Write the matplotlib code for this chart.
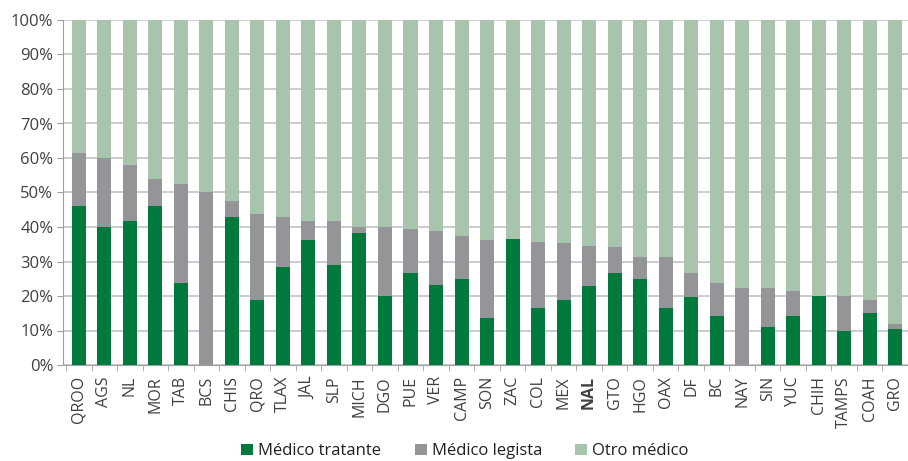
import numpy as np
import matplotlib
matplotlib.use('Agg')
import matplotlib.pyplot as plt
from matplotlib.ticker import FixedLocator, PercentFormatter

estados = ['QROO', 'AGS', 'NL', 'MOR', 'TAB', 'BCS', 'CHIS', 'QRO', 'TLAX', 'JAL',
           'SLP', 'MICH', 'DGO', 'PUE', 'VER', 'CAMP', 'SON', 'ZAC', 'COL', 'MEX',
           'NAL', 'GTO', 'HGO', 'OAX', 'DF', 'BC', 'NAY', 'SIN', 'YUC', 'CHIH',
           'TAMPS', 'COAH', 'GRO']

# Médico tratante (%)
tratante = [46.0, 39.9, 41.8, 46.0, 23.7, 0.0, 42.8, 18.8, 28.5, 36.1,
            29.1, 38.4, 20.0, 26.6, 23.3, 24.9, 13.6, 36.4, 16.5, 18.8,
            22.9, 26.7, 24.9, 16.5, 19.7, 14.2, 0.0, 11.0, 14.2, 20.0,
            9.8, 15.0, 10.4]

# Médico legista (%)
legista = [15.5, 20.0, 16.3, 7.8, 28.7, 50.0, 4.6, 24.9, 14.3, 5.6,
           12.6, 1.7, 19.9, 12.7, 15.6, 12.4, 22.7, 0.0, 19.1, 16.5,
           11.5, 7.4, 6.3, 14.7, 6.9, 9.5, 22.2, 11.2, 7.2, 0.0,
           10.2, 3.8, 1.5]

otro = [100 - a - b for a, b in zip(tratante, legista)]

c_trat = '#00793D'
c_leg = '#939598'
c_otro = '#A9C4AD'
txt = '#404040'

plt.rcParams['font.family'] = ['Open Sans', 'DejaVu Sans']

fig = plt.figure(figsize=(9.08, 4.61), dpi=100)
ax = fig.add_axes([63 / 908, (461 - 365) / 461, 845 / 908, 345 / 461])

x = np.arange(len(estados))
w = 0.55
trat = np.array(tratante)
leg = np.array(legista)
ax.bar(x, trat, w, color=c_trat, label='Médico tratante', zorder=3)
ax.bar(x, leg, w, bottom=trat, color=c_leg, label='Médico legista', zorder=3)
ax.bar(x, otro, w, bottom=trat + leg, color=c_otro, label='Otro médico', zorder=3)

ax.set_ylim(0, 100)
ax.set_xlim(-0.62, 32.26)
ax.yaxis.set_major_locator(FixedLocator(np.arange(0, 101, 10)))
ax.yaxis.set_major_formatter(PercentFormatter(decimals=0))
ax.grid(axis='y', color='#C4C4C4', linewidth=1.2, zorder=0)

ax.set_xticks(x)
ax.set_xticklabels(estados, rotation=90, fontsize=11.5, color=txt)
ax.tick_params(axis='x', length=0, pad=8)
ax.set_xticks(np.arange(len(estados) + 1) - 0.5, minor=True)
ax.tick_params(axis='x', which='minor', length=4, color='#A0A0A0')
ax.tick_params(axis='y', labelsize=12, labelcolor=txt, length=4, color='#A0A0A0', pad=3)
for lbl in ax.get_xticklabels():
    if lbl.get_text() == 'NAL':
        lbl.set_fontweight('bold')

for s in ['top', 'right']:
    ax.spines[s].set_visible(False)
for s in ['left', 'bottom']:
    ax.spines[s].set_color('#A0A0A0')

fig.legend(loc='center', bbox_to_anchor=(0.512, 0.021), ncol=3, frameon=False,
           fontsize=12, handlelength=0.72, handleheight=0.72, handletextpad=0.3,
           columnspacing=2.0, labelcolor='#202020')

fig.savefig('out.png', dpi=100)
